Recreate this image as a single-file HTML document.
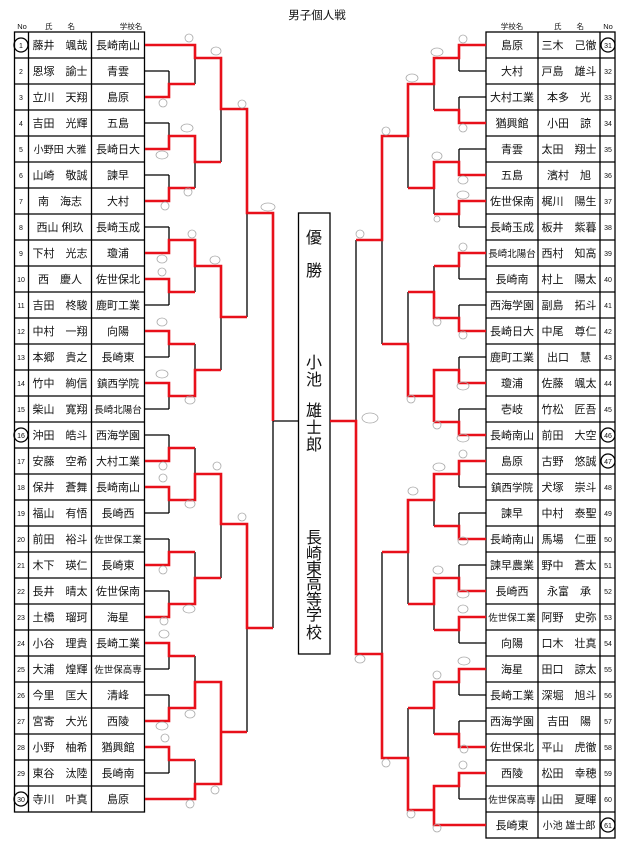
<!DOCTYPE html>
<html><head><meta charset="utf-8"><style>
html,body{margin:0;padding:0;background:#fff;width:634px;height:841px;overflow:hidden}
svg{display:block}
text{font-family:"Liberation Sans","Noto Sans CJK JP",sans-serif;fill:#111}
.b{stroke:#000;stroke-width:1.3;fill:none}
.r{stroke:#e8101a;stroke-width:2.6;fill:none}
.s{stroke:#aaa;stroke-width:0.8;fill:none}
.n{font-size:11px}
.h{font-size:7.5px}
.no{font-size:7px}
.c{font-size:16px}
</style></head><body>
<svg width="634" height="841" viewBox="0 0 634 841" xmlns="http://www.w3.org/2000/svg">
<text x="317" y="19" font-size="11.5" text-anchor="middle">男子個人戦</text>
<text class="h" x="22" y="29" text-anchor="middle">No</text>
<text class="h" x="60" y="29" text-anchor="middle">氏　　名</text>
<text class="h" x="131" y="29" text-anchor="middle">学校名</text>
<text class="h" x="512" y="29" text-anchor="middle">学校名</text>
<text class="h" x="569" y="29" text-anchor="middle">氏　　名</text>
<text class="h" x="608" y="29" text-anchor="middle">No</text>

<g class="b">
<rect x="14.5" y="32" width="130" height="780"/>
<path d="M28.5 32V812M91.5 32V812"/>
<path d="M14 58H145M14 84H145M14 110H145M14 136H145M14 162H145M14 188H145M14 214H145M14 240H145M14 266H145M14 292H145M14 318H145M14 344H145M14 370H145M14 396H145M14 422H145M14 448H145M14 474H145M14 500H145M14 526H145M14 552H145M14 578H145M14 604H145M14 630H145M14 656H145M14 682H145M14 708H145M14 734H145M14 760H145M14 786H145"/>
<rect x="486" y="32" width="129" height="806"/>
<path d="M538 32V838M600 32V838"/>
<path d="M486 58H615M486 84H615M486 110H615M486 136H615M486 162H615M486 188H615M486 214H615M486 240H615M486 266H615M486 292H615M486 318H615M486 344H615M486 370H615M486 396H615M486 422H615M486 448H615M486 474H615M486 500H615M486 526H615M486 552H615M486 578H615M486 604H615M486 630H615M486 656H615M486 682H615M486 708H615M486 734H615M486 760H615M486 786H615M486 812H615"/>
<rect x="298.5" y="213" width="31.5" height="441"/>
<circle cx="21" cy="45" r="7"/><circle cx="21" cy="435" r="7"/><circle cx="21" cy="799" r="7"/>
<circle cx="608" cy="45" r="7"/><circle cx="608" cy="435" r="7"/><circle cx="608" cy="461" r="7"/><circle cx="608" cy="825" r="7"/>
</g>

<g class="n" text-anchor="middle">
<g class="no"><text x="21" y="48">1</text><text x="21" y="74">2</text><text x="21" y="100">3</text><text x="21" y="126">4</text><text x="21" y="152">5</text><text x="21" y="178">6</text><text x="21" y="204">7</text><text x="21" y="230">8</text><text x="21" y="256">9</text><text x="21" y="282">10</text><text x="21" y="308">11</text><text x="21" y="334">12</text><text x="21" y="360">13</text><text x="21" y="386">14</text><text x="21" y="412">15</text><text x="21" y="438">16</text><text x="21" y="464">17</text><text x="21" y="490">18</text><text x="21" y="516">19</text><text x="21" y="542">20</text><text x="21" y="568">21</text><text x="21" y="594">22</text><text x="21" y="620">23</text><text x="21" y="646">24</text><text x="21" y="672">25</text><text x="21" y="698">26</text><text x="21" y="724">27</text><text x="21" y="750">28</text><text x="21" y="776">29</text><text x="21" y="802">30</text>
<text x="608" y="48">31</text><text x="608" y="74">32</text><text x="608" y="100">33</text><text x="608" y="126">34</text><text x="608" y="152">35</text><text x="608" y="178">36</text><text x="608" y="204">37</text><text x="608" y="230">38</text><text x="608" y="256">39</text><text x="608" y="282">40</text><text x="608" y="308">41</text><text x="608" y="334">42</text><text x="608" y="360">43</text><text x="608" y="386">44</text><text x="608" y="412">45</text><text x="608" y="438">46</text><text x="608" y="464">47</text><text x="608" y="490">48</text><text x="608" y="516">49</text><text x="608" y="542">50</text><text x="608" y="568">51</text><text x="608" y="594">52</text><text x="608" y="620">53</text><text x="608" y="646">54</text><text x="608" y="672">55</text><text x="608" y="698">56</text><text x="608" y="724">57</text><text x="608" y="750">58</text><text x="608" y="776">59</text><text x="608" y="802">60</text><text x="608" y="828">61</text></g>

<text x="60" y="49">藤井　颯哉</text><text x="118" y="49">長崎南山</text>
<text x="60" y="75">恩塚　諭士</text><text x="118" y="75">青雲</text>
<text x="60" y="101">立川　天翔</text><text x="118" y="101">島原</text>
<text x="60" y="127">吉田　光輝</text><text x="118" y="127">五島</text>
<text x="60" y="153" font-size="10">小野田 大雅</text><text x="118" y="153">長崎日大</text>
<text x="60" y="179">山崎　敬誠</text><text x="118" y="179">諫早</text>
<text x="60" y="205">南　海志</text><text x="118" y="205">大村</text>
<text x="60" y="231">西山 俐玖</text><text x="118" y="231">長崎玉成</text>
<text x="60" y="257">下村　光志</text><text x="118" y="257">瓊浦</text>
<text x="60" y="283">西　慶人</text><text x="118" y="283">佐世保北</text>
<text x="60" y="309">吉田　柊駿</text><text x="118" y="309">鹿町工業</text>
<text x="60" y="335">中村　一翔</text><text x="118" y="335">向陽</text>
<text x="60" y="361">本郷　貴之</text><text x="118" y="361">長崎東</text>
<text x="60" y="387">竹中　絢信</text><text x="118" y="387" font-size="10.5">鎮西学院</text>
<text x="60" y="413">柴山　寛翔</text><text x="118" y="413" font-size="9.5">長崎北陽台</text>
<text x="60" y="439">沖田　皓斗</text><text x="118" y="439">西海学園</text>
<text x="60" y="465">安藤　空希</text><text x="118" y="465">大村工業</text>
<text x="60" y="491">保井　蒼舞</text><text x="118" y="491">長崎南山</text>
<text x="60" y="517">福山　有悟</text><text x="118" y="517">長崎西</text>
<text x="60" y="543">前田　裕斗</text><text x="118" y="543" font-size="9.5">佐世保工業</text>
<text x="60" y="569">木下　瑛仁</text><text x="118" y="569">長崎東</text>
<text x="60" y="595">長井　晴太</text><text x="118" y="595">佐世保南</text>
<text x="60" y="621">土橋　瑠珂</text><text x="118" y="621">海星</text>
<text x="60" y="647">小谷　理貴</text><text x="118" y="647">長崎工業</text>
<text x="60" y="673">大浦　煌輝</text><text x="118" y="673" font-size="9.5">佐世保高専</text>
<text x="60" y="699">今里　匡大</text><text x="118" y="699">清峰</text>
<text x="60" y="725">宮寄　大光</text><text x="118" y="725">西陵</text>
<text x="60" y="751">小野　柚希</text><text x="118" y="751">猶興館</text>
<text x="60" y="777">東谷　汰陸</text><text x="118" y="777">長崎南</text>
<text x="60" y="803">寺川　叶真</text><text x="118" y="803">島原</text>

<text x="512" y="49">島原</text><text x="569" y="49">三木　己徹</text>
<text x="512" y="75">大村</text><text x="569" y="75">戸島　雄斗</text>
<text x="512" y="101">大村工業</text><text x="569" y="101">本多　光</text>
<text x="512" y="127">猶興館</text><text x="569" y="127">小田　諒</text>
<text x="512" y="153">青雲</text><text x="569" y="153">太田　翔士</text>
<text x="512" y="179">五島</text><text x="569" y="179">濱村　旭</text>
<text x="512" y="205">佐世保南</text><text x="569" y="205">梶川　陽生</text>
<text x="512" y="231">長崎玉成</text><text x="569" y="231">板井　紫暮</text>
<text x="512" y="257" font-size="9.5">長崎北陽台</text><text x="569" y="257">西村　知高</text>
<text x="512" y="283">長崎南</text><text x="569" y="283">村上　陽太</text>
<text x="512" y="309">西海学園</text><text x="569" y="309">副島　拓斗</text>
<text x="512" y="335">長崎日大</text><text x="569" y="335">中尾　尊仁</text>
<text x="512" y="361">鹿町工業</text><text x="569" y="361">出口　慧</text>
<text x="512" y="387">瓊浦</text><text x="569" y="387">佐藤　颯太</text>
<text x="512" y="413">壱岐</text><text x="569" y="413">竹松　匠吾</text>
<text x="512" y="439">長崎南山</text><text x="569" y="439">前田　大空</text>
<text x="512" y="465">島原</text><text x="569" y="465">古野　悠誠</text>
<text x="512" y="491" font-size="10.5">鎮西学院</text><text x="569" y="491">犬塚　崇斗</text>
<text x="512" y="517">諫早</text><text x="569" y="517">中村　泰聖</text>
<text x="512" y="543">長崎南山</text><text x="569" y="543">馬場　仁亜</text>
<text x="512" y="569">諫早農業</text><text x="569" y="569">野中　蒼太</text>
<text x="512" y="595">長崎西</text><text x="569" y="595">永富　承</text>
<text x="512" y="621" font-size="9.5">佐世保工業</text><text x="569" y="621">阿野　史弥</text>
<text x="512" y="647">向陽</text><text x="569" y="647">口木　壮真</text>
<text x="512" y="673">海星</text><text x="569" y="673">田口　諒太</text>
<text x="512" y="699">長崎工業</text><text x="569" y="699">深堀　旭斗</text>
<text x="512" y="725">西海学園</text><text x="569" y="725">吉田　陽</text>
<text x="512" y="751">佐世保北</text><text x="569" y="751">平山　虎徹</text>
<text x="512" y="777">西陵</text><text x="569" y="777">松田　幸穂</text>
<text x="512" y="803" font-size="9.5">佐世保高専</text><text x="569" y="803">山田　夏暉</text>
<text x="512" y="829">長崎東</text><text x="569" y="829" font-size="10">小池 雄士郎</text>
</g>

<g class="c" text-anchor="middle">
<text x="314" y="243">優</text><text x="314" y="276">勝</text>
<text x="314" y="368">小</text><text x="314" y="385">池</text>
<text x="314" y="416">雄</text><text x="314" y="433">士</text><text x="314" y="450">郎</text>
<text x="314" y="543">長</text><text x="314" y="559">崎</text><text x="314" y="574">東</text><text x="314" y="589">高</text><text x="314" y="605">等</text><text x="314" y="620">学</text><text x="314" y="638">校</text>
</g>

<path class="b" d="M145 71H169M145 123H169M145 175H169M145 227H169M145 305H169M145 357H169M145 409H169M145 435H169M145 513H169M145 539H169M145 591H169M145 669H169M145 695H169M145 773H169
M169 71V97M169 123V149M169 175V201M169 227V253M169 279V305M169 331V357M169 383V409M169 435V461M169 487V513M169 539V565M169 591V617M169 643V669M169 695V721M169 747V773
M195 45V84M195 136V188M195 240V292M195 344V396M195 448V500M195 552V604M195 656V708M195 760V799
M221 58V162M221 266V370M221 474V578M221 682V784
M247 109V317M247 524V732
M273 213V628M273 421H298.5
M486 71H459M486 97H459M486 149H459M486 227H459M486 279H459M486 305H459M486 357H459M486 409H459M486 487H459M486 513H459M486 565H459M486 643H459M486 695H459M486 721H459M486 799H459
M459 45V71M459 97V123M459 149V175M459 201V227M459 253V279M459 305V331M459 357V383M459 409V435M459 461V487M459 513V539M459 565V591M459 617V643M459 669V695M459 721V747M459 773V799
M434 58V110M434 162V214M434 266V318M434 370V422M434 474V526M434 578V630M434 682V734M434 786V825
M408 84V188M408 292V396M408 500V604M408 708V810
M382 136V344M382 552V758
M356 240V654"/>

<path class="r" d="M145 45H195V58H221V109H247V213H273V421
M145 97H169V84H195
M145 149H169V136H195V162H221
M145 201H169V188H195
M145 253H169V240H195V266H221V317H247
M145 279H169V292H195
M145 331H169V344H195
M145 383H169V396H195V370H221
M145 461H169V448H195
M145 487H169V500H195V474H221V524H247V628H273
M145 565H169V552H195
M145 617H169V604H195V578H221
M145 643H169V656H195
M145 721H169V708H195V682H221V784
M145 747H169V760H195
M145 799H195V784H221V732H247
M486 825H434V810H408V758H382V654H356V421H330
M486 45H459V58H434V84H408V136H382V240H356
M486 123H459V110H434
M486 175H459V162H434V188H408
M486 201H459V214H434
M486 253H459V266H434
M486 331H459V318H434V292H408
M486 383H459V370H434V422
M434 396H408V344H382
M486 435H459V422H434
M486 461H459V474H434V500H408V552H382
M486 539H459V526H434
M486 591H459V578H434V604H408
M486 617H459V630H434
M486 669H459V682H434V708H408
M486 747H459V734H434
M486 773H459V786H434V825"/>

<g class="s">
<ellipse cx="189" cy="38" rx="4" ry="4"/><ellipse cx="216" cy="51" rx="5" ry="4"/><ellipse cx="242" cy="104" rx="4" ry="4"/>
<ellipse cx="163" cy="103" rx="4" ry="4"/><ellipse cx="187" cy="128" rx="6" ry="4"/><ellipse cx="162" cy="155" rx="6" ry="4"/>
<ellipse cx="188" cy="192" rx="4" ry="4"/><ellipse cx="165" cy="206" rx="4" ry="4"/><ellipse cx="268" cy="207" rx="7" ry="4"/>
<ellipse cx="192" cy="234" rx="4" ry="4"/><ellipse cx="162" cy="259" rx="5" ry="4"/><ellipse cx="162" cy="272" rx="4" ry="4"/>
<ellipse cx="215" cy="260" rx="5" ry="4"/><ellipse cx="162" cy="322" rx="5" ry="4"/><ellipse cx="162" cy="374" rx="6" ry="4"/>
<ellipse cx="190" cy="400" rx="5" ry="4"/><ellipse cx="163" cy="466" rx="4" ry="4"/><ellipse cx="163" cy="478" rx="4" ry="4"/>
<ellipse cx="217" cy="466" rx="4" ry="4"/><ellipse cx="190" cy="504" rx="5" ry="4"/><ellipse cx="242" cy="517" rx="4" ry="4"/>
<ellipse cx="163" cy="570" rx="4" ry="4"/><ellipse cx="189" cy="609" rx="6" ry="4"/><ellipse cx="164" cy="621" rx="4" ry="4"/>
<ellipse cx="164" cy="634" rx="5" ry="4"/><ellipse cx="190" cy="714" rx="5" ry="4"/><ellipse cx="162" cy="726" rx="6" ry="4"/>
<ellipse cx="165" cy="738" rx="4" ry="4"/><ellipse cx="215" cy="790" rx="4" ry="4"/><ellipse cx="190" cy="804" rx="4" ry="4"/>
<ellipse cx="463" cy="39" rx="4" ry="4"/><ellipse cx="437" cy="52" rx="6" ry="4"/><ellipse cx="412" cy="78" rx="6" ry="4"/>
<ellipse cx="386" cy="131" rx="4" ry="4"/><ellipse cx="463" cy="128" rx="4" ry="4"/><ellipse cx="437" cy="156" rx="5" ry="4"/>
<ellipse cx="463" cy="180" rx="5" ry="4"/><ellipse cx="463" cy="195" rx="6" ry="4"/><ellipse cx="437" cy="219" rx="3" ry="3"/>
<ellipse cx="360" cy="234" rx="4" ry="4"/><ellipse cx="463" cy="247" rx="4" ry="4"/><ellipse cx="437" cy="322" rx="4" ry="4"/>
<ellipse cx="463" cy="335" rx="4" ry="4"/><ellipse cx="411" cy="399" rx="4" ry="4"/><ellipse cx="370" cy="418" rx="8" ry="5"/>
<ellipse cx="463" cy="386" rx="6" ry="4"/><ellipse cx="437" cy="425" rx="4" ry="4"/><ellipse cx="463" cy="438" rx="6" ry="4"/>
<ellipse cx="463" cy="454" rx="4" ry="4"/><ellipse cx="439" cy="467" rx="6" ry="4"/><ellipse cx="413" cy="491" rx="5" ry="4"/>
<ellipse cx="463" cy="541" rx="5" ry="4"/><ellipse cx="438" cy="570" rx="5" ry="4"/><ellipse cx="463" cy="594" rx="6" ry="4"/>
<ellipse cx="463" cy="609" rx="5" ry="4"/><ellipse cx="360" cy="659" rx="5" ry="4"/><ellipse cx="464" cy="661" rx="6" ry="4"/>
<ellipse cx="437" cy="675" rx="4" ry="4"/><ellipse cx="464" cy="749" rx="4" ry="4"/><ellipse cx="386" cy="763" rx="4" ry="4"/>
<ellipse cx="463" cy="765" rx="4" ry="4"/><ellipse cx="411" cy="814" rx="4" ry="4"/><ellipse cx="437" cy="828" rx="4" ry="4"/>
</g>
</svg>
</body></html>
